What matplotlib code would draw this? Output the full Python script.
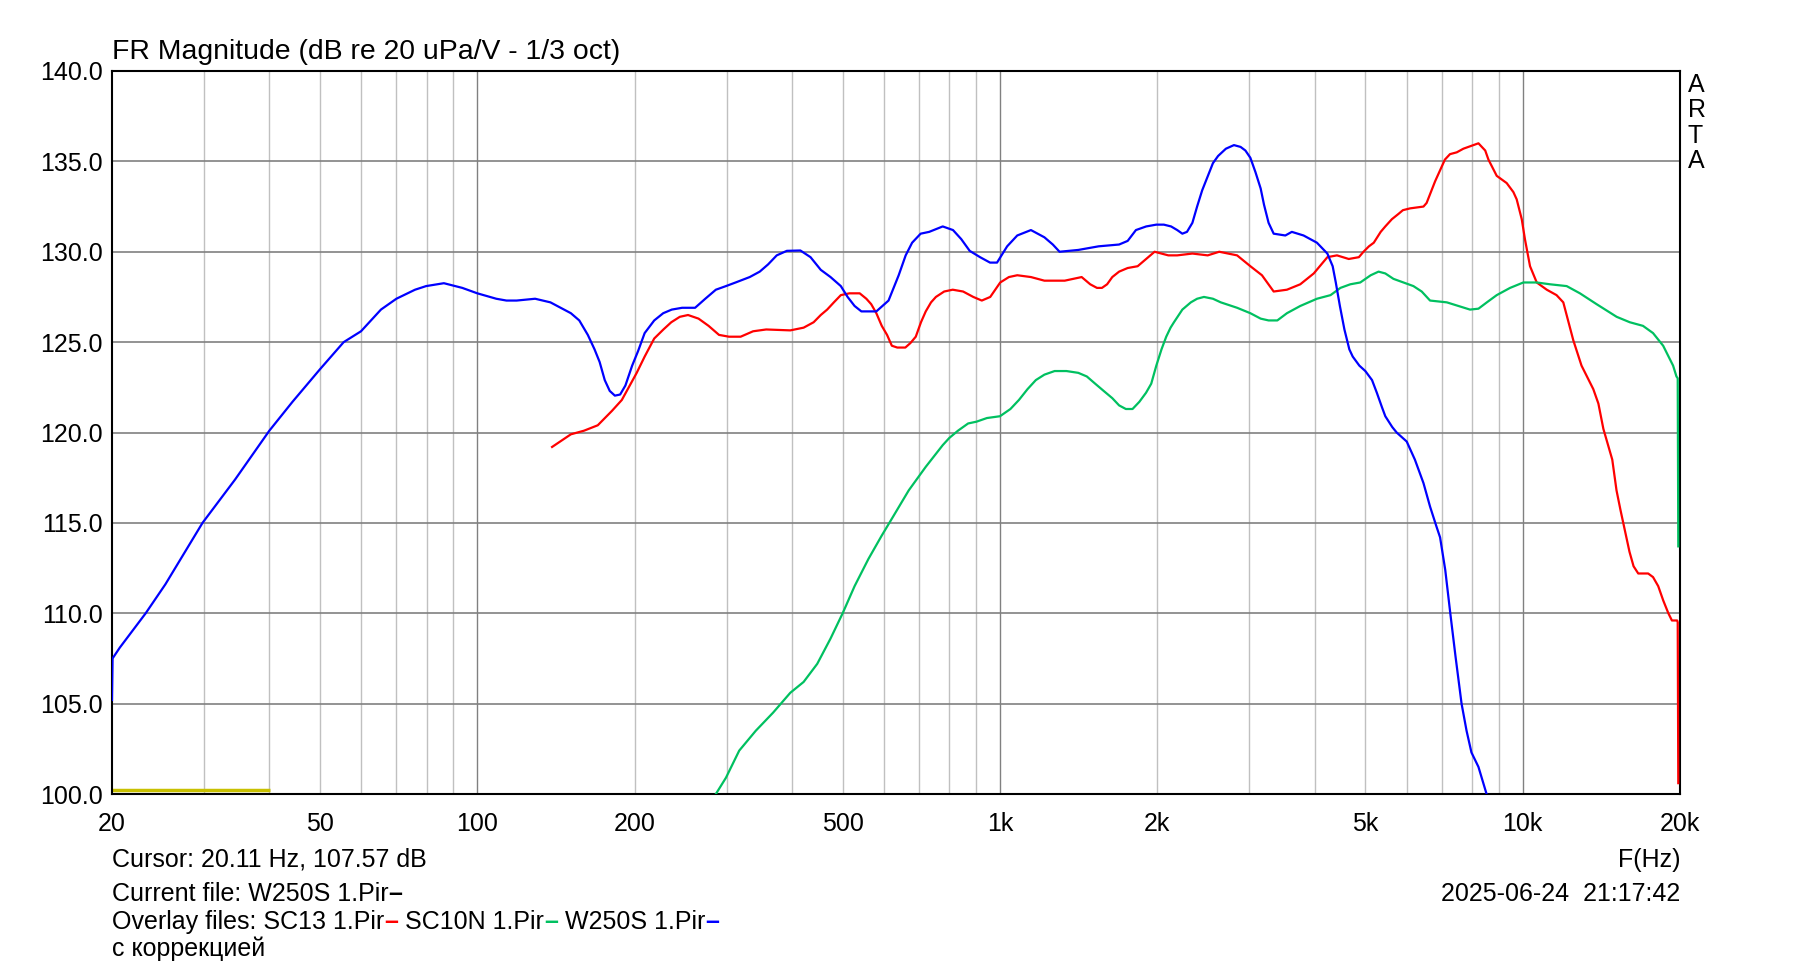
import numpy as np
import matplotlib.pyplot as plt

plt.rcParams['font.family'] = ['Liberation Sans', 'DejaVu Sans']

# W250S (blue) - frequency (Hz) / level (dB)
w250s_f = [20, 20.05, 20.7, 23.2, 25.3, 29.8, 34.4, 40, 44.3, 50, 55.5, 59.9, 65.4, 70, 76, 79.8,
           86.3, 93.6, 100, 108.7, 113.7, 118.9, 129, 138, 146.6, 151, 156.7, 162.7, 167.6, 171.4,
           175.3, 179.2, 183.3, 187.6, 192, 197.8, 203, 209, 218, 226.8, 235.5, 246.5, 261, 273,
           286, 299, 312, 332, 347, 360, 374, 391, 415, 434, 454, 474, 496, 511, 527, 543, 580,
           612, 640, 660, 679, 705, 732, 777, 813, 843, 875, 916, 957, 987, 1032, 1079, 1146,
           1216, 1262, 1300, 1412, 1544, 1690, 1755, 1820, 1904, 1991, 2058, 2125, 2183, 2233,
           2279, 2334, 2383, 2437, 2499, 2555, 2614, 2705, 2803, 2886, 2948, 3013, 3082, 3153,
           3200, 3265, 3339, 3515, 3617, 3809, 4040, 4230, 4330, 4390, 4470, 4560, 4660, 4730,
           4870, 5000, 5150, 5260, 5380, 5460, 5630, 5740, 6000, 6220, 6460, 6650, 6840, 6950,
           7110, 7270, 7440, 7640, 7810, 7980, 8230, 8530, 8700]
w250s_db = [105.2, 107.5, 108.1, 110.0, 111.6, 115.0, 117.4, 120.1, 121.7, 123.5, 125.0, 125.6,
            126.8, 127.4, 127.9, 128.1, 128.26, 128.0, 127.7, 127.4, 127.3, 127.3, 127.4, 127.2,
            126.8, 126.6, 126.2, 125.4, 124.6, 123.9, 122.9, 122.3, 122.04, 122.1, 122.6, 123.7,
            124.5, 125.5, 126.2, 126.6, 126.8, 126.9, 126.9, 127.4, 127.9, 128.1, 128.3, 128.6,
            128.9, 129.3, 129.8, 130.05, 130.07, 129.7, 129.0, 128.6, 128.1, 127.5, 127.0, 126.7,
            126.7, 127.3, 128.7, 129.8, 130.5, 131.0, 131.1, 131.4, 131.2, 130.7, 130.05, 129.7,
            129.4, 129.4, 130.3, 130.9, 131.2, 130.8, 130.4, 130.0, 130.1, 130.3, 130.4, 130.6,
            131.2, 131.4, 131.5, 131.5, 131.4, 131.2, 131.0, 131.1, 131.6, 132.5, 133.4, 134.2,
            134.9, 135.3, 135.7, 135.9, 135.8, 135.6, 135.2, 134.4, 133.5, 132.6, 131.6, 131.0,
            130.9, 131.1, 130.9, 130.5, 129.9, 129.2, 128.3, 127.0, 125.7, 124.6, 124.2, 123.7,
            123.4, 122.9, 122.2, 121.4, 120.9, 120.3, 120.0, 119.5, 118.5, 117.2, 115.9, 114.8,
            114.2, 112.4, 110.0, 107.6, 105.0, 103.5, 102.3, 101.5, 100.0, 99.5]

# SC13 (red)
sc13_f = [139, 144, 151, 160, 170, 181, 189, 201.8, 209, 218, 227, 235, 244, 253, 265, 277, 290,
          303, 319, 337, 357, 397, 421, 440, 454, 467, 481, 496, 515, 539, 555, 567, 580, 594,
          608, 621, 636, 659, 674, 690, 706, 721, 738, 754, 782, 812, 850, 889, 923, 958, 1001,
          1040, 1079, 1146, 1216, 1330, 1433, 1488, 1533, 1567, 1603, 1640, 1690, 1755, 1834,
          1904, 1976, 2037, 2099, 2183, 2334, 2497, 2627, 2842, 3013, 3171, 3339, 3540, 3754,
          3984, 4230, 4413, 4648, 4860, 4960, 5080, 5190, 5350, 5460, 5620, 5790, 5900, 6090,
          6460, 6550, 6800, 7100, 7260, 7480, 7700, 7870, 8230, 8480, 8600, 8920, 9320, 9600,
          9740, 9960, 10100, 10330, 10640, 11120, 11610, 11960, 12500, 12960, 13650, 13960,
          14270, 14840, 15120, 15390, 15680, 16010, 16300, 16640, 17380, 17760, 18170, 18580,
          19000, 19300, 19750, 19800, 19850]
sc13_db = [119.2, 119.5, 119.9, 120.1, 120.4, 121.2, 121.8, 123.3, 124.2, 125.2, 125.7, 126.1,
           126.4, 126.5, 126.3, 125.9, 125.4, 125.3, 125.3, 125.6, 125.7, 125.65, 125.8, 126.1,
           126.5, 126.8, 127.2, 127.6, 127.7, 127.7, 127.4, 127.1, 126.6, 125.9, 125.4, 124.8,
           124.7, 124.7, 124.95, 125.3, 126.1, 126.7, 127.2, 127.5, 127.8, 127.9, 127.8, 127.5,
           127.3, 127.5, 128.3, 128.6, 128.7, 128.6, 128.4, 128.4, 128.6, 128.2, 128.0, 128.0,
           128.2, 128.6, 128.9, 129.1, 129.2, 129.6, 130.0, 129.9, 129.8, 129.8, 129.9, 129.8,
           130.0, 129.8, 129.2, 128.7, 127.8, 127.9, 128.2, 128.8, 129.7, 129.8, 129.6, 129.7,
           130.0, 130.3, 130.5, 131.1, 131.4, 131.8, 132.1, 132.3, 132.4, 132.5, 132.7, 133.9,
           135.1, 135.4, 135.5, 135.7, 135.8, 136.0, 135.6, 135.1, 134.2, 133.8, 133.3, 132.9,
           131.8, 130.7, 129.2, 128.3, 127.9, 127.6, 127.2, 125.1, 123.7, 122.4, 121.6, 120.2,
           118.5, 116.8, 115.7, 114.6, 113.4, 112.6, 112.2, 112.2, 112.0, 111.5, 110.7, 110.0,
           109.6, 109.6, 109.5, 100.6]

# SC10N (green)
sc10n_f = [286, 299, 317, 341, 368, 397, 421, 447, 474, 500, 527, 560, 594, 626, 669, 721, 777,
           800, 831, 869, 902, 944, 1000, 1047, 1087, 1129, 1171, 1216, 1272, 1340, 1412, 1466,
           1521, 1579, 1640, 1690, 1741, 1793, 1848, 1903, 1947, 1991, 2037, 2080, 2120, 2152,
           2233, 2318, 2383, 2456, 2555, 2645, 2842, 3013, 3153, 3265, 3393, 3540, 3754, 4040,
           4290, 4480, 4680, 4890, 5120, 5300, 5460, 5660, 6180, 6410, 6650, 7160, 7930, 8230,
           8540, 8920, 9460, 10030, 10640, 11280, 12140, 12870, 13850, 15130, 16030, 16990,
           17760, 18570, 19400, 19690, 19800, 19850]
sc10n_db = [100.0, 100.9, 102.4, 103.5, 104.5, 105.6, 106.2, 107.2, 108.6, 110.0, 111.5, 113.0,
            114.3, 115.4, 116.8, 118.1, 119.3, 119.7, 120.1, 120.5, 120.6, 120.8, 120.9, 121.3,
            121.8, 122.4, 122.9, 123.2, 123.4, 123.4, 123.3, 123.1, 122.7, 122.3, 121.9, 121.5,
            121.3, 121.3, 121.7, 122.2, 122.7, 123.7, 124.6, 125.3, 125.8, 126.1, 126.8, 127.2,
            127.4, 127.5, 127.4, 127.2, 126.9, 126.6, 126.3, 126.2, 126.2, 126.6, 127.0, 127.4,
            127.6, 128.0, 128.2, 128.3, 128.7, 128.9, 128.8, 128.5, 128.1, 127.8, 127.3, 127.2,
            126.8, 126.85, 127.2, 127.6, 128.0, 128.3, 128.3, 128.2, 128.1, 127.7, 127.1, 126.4,
            126.1, 125.9, 125.5, 124.8, 123.7, 123.1, 123.0, 113.7]

# yellow marker line at the bottom
marker_f = [20, 40.2]
marker_db = [100.2, 100.2]

xtick_vals = [20, 50, 100, 200, 500, 1000, 2000, 5000, 10000, 20000]
xtick_labels = ['20', '50', '100', '200', '500', '1k', '2k', '5k', '10k', '20k']
ytick_vals = [100, 105, 110, 115, 120, 125, 130, 135, 140]

W, H = 1793, 966
fig = plt.figure(figsize=(W / 100, H / 100), dpi=100)
ax = fig.add_axes((112 / W, 1 - 794 / H, (1680 - 112) / W, (794 - 71) / H))
ax.set_xscale('log')
ax.set_xlim(20, 20000)
ax.set_ylim(100, 140)

# grid
for dec in [10, 100, 1000, 10000]:
    for m in range(1, 10):
        f = dec * m
        if 20 < f < 20000:
            ax.axvline(f, color='#808080' if m == 1 else '#c0c0c0', lw=1.0, zorder=0)
for v in ytick_vals[1:-1]:
    ax.axhline(v, color='#808080', lw=1.2, zorder=0)

ax.plot(marker_f, marker_db, color='#c8c000', lw=2.5, zorder=2, solid_capstyle='butt')
ax.plot(sc13_f, sc13_db, color='#ff0000', lw=1.6, zorder=3)
ax.plot(sc10n_f, sc10n_db, color='#00c060', lw=1.6, zorder=3)
ax.plot(w250s_f, w250s_db, color='#0000ff', lw=1.6, zorder=4)

ax.set_xticks(xtick_vals)
ax.set_xticklabels(xtick_labels)
ax.xaxis.set_minor_locator(plt.NullLocator())
ax.set_yticks(ytick_vals)
ax.set_yticklabels([f'{v:.1f}' for v in ytick_vals])
ax.tick_params(axis='x', length=0, pad=13, labelsize=18)
ax.tick_params(axis='y', length=0, pad=6.5, labelsize=18)
for sp in ax.spines.values():
    sp.set_linewidth(1.5)
    sp.set_color('black')

fig.text(112 / W, 1 - 59 / H, 'FR Magnitude (dB re 20 uPa/V - 1/3 oct)', fontsize=20.4,
         ha='left', va='baseline')
for i, ch in enumerate('ARTA'):
    fig.text(1688 / W, 1 - (85 + i * 25.3) / H, ch, fontsize=18, ha='left', va='center')

fig.text(1680 / W, 1 - 867 / H, 'F(Hz)', fontsize=18, ha='right', va='baseline')
fig.text(1680 / W, 1 - 901 / H, '2025-06-24  21:17:42', fontsize=18, ha='right', va='baseline')

fig.canvas.draw()
renderer = fig.canvas.get_renderer()


def put_row(x, y, parts):
    for s, c, w in parts:
        t = fig.text(x / W, 1 - y / H, s, color=c, fontsize=18, fontweight=w,
                     ha='left', va='baseline')
        x = t.get_window_extent(renderer=renderer).x1


put_row(112, 867, [('Cursor: 20.11 Hz, 107.57 dB', 'black', 'normal')])
put_row(112, 901, [('Current file: W250S 1.Pir', 'black', 'normal'), ('–', 'black', 'bold')])
put_row(112, 929, [('Overlay files: SC13 1.Pir', 'black', 'normal'), ('–', '#ff0000', 'bold'),
                   (' SC10N 1.Pir', 'black', 'normal'), ('–', '#00c060', 'bold'),
                   (' W250S 1.Pir', 'black', 'normal'), ('–', '#0000ff', 'bold')])
put_row(112, 956, [('с коррекцией', 'black', 'normal')])

fig.savefig('out.png', dpi=100)
